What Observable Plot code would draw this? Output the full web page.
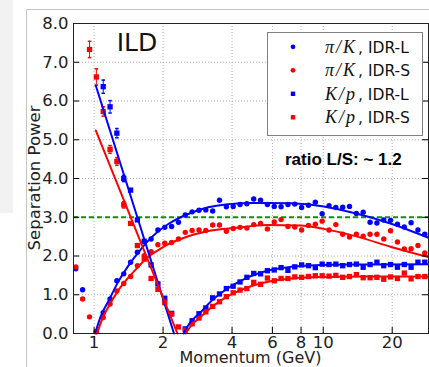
<!DOCTYPE html>
<html><head><meta charset="utf-8">
<script src="https://cdn.jsdelivr.net/npm/d3@7"></script>
<script src="https://cdn.jsdelivr.net/npm/@observablehq/plot@0.6"></script>
<style>body{margin:0;background:#fff}svg{display:block}</style>
</head><body><div id="chart"></div>
<script>
// ---- data ----
const momentum = [0.832,0.891,0.955,1.023,1.096,1.174,1.257,1.347,1.443,1.545,1.655,1.773,1.899,2.034,2.179,2.334,2.500,2.678,2.869,3.073,3.292,3.526,3.777,4.046,4.334,4.642,4.973,5.327,5.706,6.112,6.547,7.015,7.513,8.048,8.620,9.235,9.892,10.60,11.35,12.16,13.02,13.95,14.94,16.01,17.15,18.37,19.67,21.08,22.58,24.18,25.90,27.75];
const piK_L = [1.67,1.13,null,0.05,0.54,0.89,1.36,1.54,1.84,2.10, 2.37,2.44,2.67,2.74,2.76,2.87,3.06,3.14,3.18,3.19, 3.16,3.44,3.27,3.28,3.33,3.35,3.47,3.44,3.33,3.28, 3.27,3.33,3.34,3.25,3.31,3.39,3.09,3.30,3.25,3.26, 3.28,3.10,3.13,2.87,2.85,2.93,2.92,2.82,2.75,2.86, 2.67,2.56];
const piK_S = [1.72,0.89,0.43,0.05,0.41,0.76,1.10,1.29,1.47,1.75, 2.01,2.11,2.29,2.33,2.35,2.44,2.61,2.66,2.67,2.66, 2.80,2.80,2.64,2.71,2.74,2.72,2.81,2.84,2.70,2.88, 2.94,2.76,2.75,2.67,2.79,2.82,2.90,2.67,2.81,2.56, 2.49,2.56,2.51,2.56,2.56,2.44,2.65,2.36,2.18,2.19, 2.27,2.08];
const Kp_L = [null,null,null,null,6.37,5.85,5.17,4.00,3.70,2.93, 2.38,1.77,1.28,0.91,0.52,null,0.12,0.33,0.51,0.66, 0.92,1.02,1.16,1.22,1.33,1.45,1.55,1.54,1.62,1.64, 1.70,1.63,1.72,1.77,1.75,1.70,1.79,1.78,1.79,1.75, 1.78,1.79,1.71,1.78,1.84,1.75,1.78,1.71,1.78,1.71, 1.84,1.84];
const Kp_S = [null,null,7.33,6.62,5.73,4.75,4.44,3.32,2.84,2.27, 1.92,1.42,1.14,0.80,0.50,0.17,0.09,0.25,0.40,0.56, 0.70,0.82,0.95,1.05,1.12,1.16,1.32,1.27,1.43,1.36, 1.42,1.42,1.46,1.45,1.47,1.49,1.49,1.48,1.50,1.45, 1.47,1.52,1.44,1.44,1.45,1.40,1.46,1.42,1.56,1.41, 1.47,1.47];
const Kp_L_err = [null,null,null,null,0.17,0.16,0.12,0.08];
const Kp_S_err = [null,null,0.21,0.21,0.12,0.10,0.10,0.08];

// fitted curves (momentum, separation)
const fitPiK_L_p = [1.010,1.070,1.170,1.265,1.400,1.546,1.700,1.889,2.100,2.387,2.750,3.120,3.750,4.660,5.700,7.200,10.06,14.07,19.65,28.8];
const fitPiK_L_v = [0,0.45,0.90,1.30,1.72,2.06,2.36,2.62,2.82,3.00,3.15,3.25,3.33,3.37,3.37,3.36,3.28,3.09,2.84,2.47];
const fitPiK_S_p = [1.030,1.090,1.170,1.265,1.400,1.546,1.700,1.889,2.100,2.387,2.750,3.120,4.080,5.700,7.960,10.06,14.07,19.65,28.8];
const fitPiK_S_v = [0,0.40,0.75,1.08,1.42,1.70,1.95,2.14,2.30,2.44,2.56,2.64,2.72,2.80,2.79,2.70,2.50,2.24,1.97];
const fitKp_L_fall_p = [1.017,2.232];
const fitKp_L_fall_v = [6.40,0];
const fitKp_S_fall_p = [1.017,2.310];
const fitKp_S_fall_v = [5.24,0];
const fitKp_L_rise_p = [2.460,2.600,2.918,3.292,3.751,4.360,5.070,5.890,7.200,9.730,14.54,28.8];
const fitKp_L_rise_v = [0,0.25,0.55,0.87,1.13,1.36,1.53,1.64,1.72,1.77,1.78,1.79];
const fitKp_S_rise_p = [2.510,2.650,2.918,3.292,3.751,4.360,5.070,5.890,7.200,9.730,14.54,28.8];
const fitKp_S_rise_v = [0,0.20,0.43,0.70,0.93,1.12,1.26,1.35,1.42,1.46,1.47,1.47];

const xTicks = [1,2,4,6,8,10,20];
const yTicks = [0,1,2,3,4,5,6,7,8];
const threshold = [3.0];

const seriesMath = ["π/K","π/K","K/p","K/p"];
const seriesDetector = ["IDR-L","IDR-S","IDR-L","IDR-S"];

// ---- build tables ----
const pts = (vals) => momentum.map((p,i)=>({p, v: vals[i]})).filter(d=>d.v!=null);
const errs = (vals, e) => momentum.map((p,i)=>({p, v: vals[i], e: e[i]})).filter(d=>d.e!=null && d.v!=null);
const curve = (ps, vs) => ps.map((p,i)=>({p, v: vs[i]}));

const BLUE = "#0000ff", RED = "#ff0000", GREEN = "#009a00";
const FONT = "DejaVu Sans";
const capSymbol = {draw(ctx, size){ const w = Math.sqrt(size); ctx.moveTo(-w/2,0); ctx.lineTo(w/2,0); }};

const W = 429, H = 367, mL = 73, mR = 1, mT = 23, mB = 34;
const pw = W - mL - mR, ph = H - mT - mB;

const chart = Plot.plot({
  width: W, height: H,
  marginLeft: mL, marginRight: mR, marginTop: mT, marginBottom: mB,
  style: {fontFamily: FONT, background: "white", overflow: "visible"},
  x: {type: "log", domain: [0.813, 28.8], axis: null},
  y: {domain: [0, 8], axis: null},
  marks: [
    Plot.ruleY(yTicks, {y: d=>d, stroke: "#b0b0b0", strokeDasharray: "1,2", strokeWidth: 1}),
    Plot.ruleX(xTicks, {x: d=>d, stroke: "#b0b0b0", strokeDasharray: "1,2", strokeWidth: 1}),
    Plot.ruleY(threshold, {y: d=>d, stroke: GREEN, strokeWidth: 2, strokeDasharray: "5,3"}),
    // error bars
    Plot.ruleX(errs(Kp_L, Kp_L_err), {x: "p", y1: d=>d.v-d.e, y2: d=>d.v+d.e, stroke: BLUE, strokeWidth: 1}),
    Plot.dot(errs(Kp_L, Kp_L_err), {x: "p", y: d=>d.v+d.e, symbol: capSymbol, r: 2, stroke: BLUE, fill: "none"}),
    Plot.dot(errs(Kp_L, Kp_L_err), {x: "p", y: d=>d.v-d.e, symbol: capSymbol, r: 2, stroke: BLUE, fill: "none"}),
    Plot.ruleX(errs(Kp_S, Kp_S_err), {x: "p", y1: d=>d.v-d.e, y2: d=>d.v+d.e, stroke: RED, strokeWidth: 1}),
    Plot.dot(errs(Kp_S, Kp_S_err), {x: "p", y: d=>d.v+d.e, symbol: capSymbol, r: 2, stroke: RED, fill: "none"}),
    Plot.dot(errs(Kp_S, Kp_S_err), {x: "p", y: d=>d.v-d.e, symbol: capSymbol, r: 2, stroke: RED, fill: "none"}),
    // points
    Plot.dot(pts(piK_L), {x: "p", y: "v", r: 2.7, fill: BLUE, stroke: "none"}),
    Plot.dot(pts(piK_S), {x: "p", y: "v", r: 2.7, fill: RED, stroke: "none"}),
    Plot.dot(pts(Kp_L), {x: "p", y: "v", r: 3, symbol: "square", fill: BLUE, stroke: "none"}),
    Plot.dot(pts(Kp_S), {x: "p", y: "v", r: 3, symbol: "square", fill: RED, stroke: "none"}),
    // fits
    Plot.line(curve(fitPiK_L_p, fitPiK_L_v), {x: "p", y: "v", stroke: BLUE, strokeWidth: 2, curve: "monotone-x"}),
    Plot.line(curve(fitPiK_S_p, fitPiK_S_v), {x: "p", y: "v", stroke: RED, strokeWidth: 2, curve: "monotone-x"}),
    Plot.line(curve(fitKp_L_fall_p, fitKp_L_fall_v), {x: "p", y: "v", stroke: BLUE, strokeWidth: 2}),
    Plot.line(curve(fitKp_S_fall_p, fitKp_S_fall_v), {x: "p", y: "v", stroke: RED, strokeWidth: 2}),
    Plot.line(curve(fitKp_L_rise_p, fitKp_L_rise_v), {x: "p", y: "v", stroke: BLUE, strokeWidth: 2, curve: "monotone-x"}),
    Plot.line(curve(fitKp_S_rise_p, fitKp_S_rise_v), {x: "p", y: "v", stroke: RED, strokeWidth: 2, curve: "monotone-x"}),
    // inward ticks
    Plot.tickY(yTicks, {y: d=>d, insetRight: pw - 6, stroke: "black"}),
    Plot.tickY(yTicks, {y: d=>d, insetLeft: pw - 6, stroke: "black"}),
    Plot.tickX(xTicks, {x: d=>d, insetTop: ph - 6, stroke: "black"}),
    // tick labels
    Plot.text(yTicks, {y: d=>d, text: d=>d.toFixed(1), frameAnchor: "left", textAnchor: "end", dx: -5, fontSize: 16.5, fill: "#222"}),
    Plot.text(xTicks, {x: d=>d, text: d=>String(d), frameAnchor: "bottom", lineAnchor: "middle", dy: 9, fontSize: 16.5, fill: "#222"}),
    Plot.frame({stroke: "#222", strokeWidth: 1})
  ]
});
document.getElementById("chart").appendChild(chart);

// ---- annotations, labels, legend ----
const svg = d3.select(chart);
svg.insert("rect", ":first-child").attr("x",0).attr("y",0).attr("width",13).attr("height",213).attr("fill","#f2f2f2");
svg.append("path").attr("d","M26.5,367V9.5H429").attr("fill","none").attr("stroke","#c4c4c4");

svg.append("text").attr("x", 250.5).attr("y", 363).attr("text-anchor","middle")
  .attr("font-family", FONT).attr("font-size", 16).attr("fill","#222").text("Momentum (GeV)");
svg.append("text").attr("transform","translate(39.5,178) rotate(-90)").attr("text-anchor","middle")
  .attr("font-family", FONT).attr("font-size", 16.5).attr("fill","#222").text("Separation Power");
svg.append("text").attr("x", 137).attr("y", 51).attr("text-anchor","middle")
  .attr("font-family", FONT).attr("font-size", 25).attr("fill","#111").text("ILD");
svg.append("text").attr("x", 285).attr("y", 165).attr("text-anchor","start")
  .attr("font-family", "Liberation Sans").attr("font-weight","bold").attr("font-size", 17).attr("fill","#000")
  .text("ratio L/S: ~ 1.2");

const lg = svg.append("g").attr("text-anchor","start");
lg.append("rect").attr("x",267.5).attr("y",32.5).attr("width",155).attr("height",103)
  .attr("fill","white").attr("stroke","#808080");
const legendColors = [BLUE, RED, BLUE, RED];
const legendSquare = [false, false, true, true];
seriesMath.forEach((m, k) => {
  const cy = 46.8 + k*23.5;
  const color = legendColors[k];
  if (legendSquare[k]) lg.append("rect").attr("x",290.8).attr("y",cy-2.2).attr("width",4.4).attr("height",4.4).attr("fill",color);
  else lg.append("circle").attr("cx",293).attr("cy",cy).attr("r",2.4).attr("fill",color);
  const t = lg.append("text").attr("x", 325).attr("y", cy + 6).attr("text-anchor","start").attr("fill","#111");
  t.append("tspan").attr("font-family","Liberation Serif").attr("font-style","italic")
    .attr("font-size", 18).attr("letter-spacing","2px").text(m);
  t.append("tspan").attr("dx", 1).attr("font-family", FONT).attr("font-size", 15.5).text(", " + seriesDetector[k]);
});
</script></body></html>
